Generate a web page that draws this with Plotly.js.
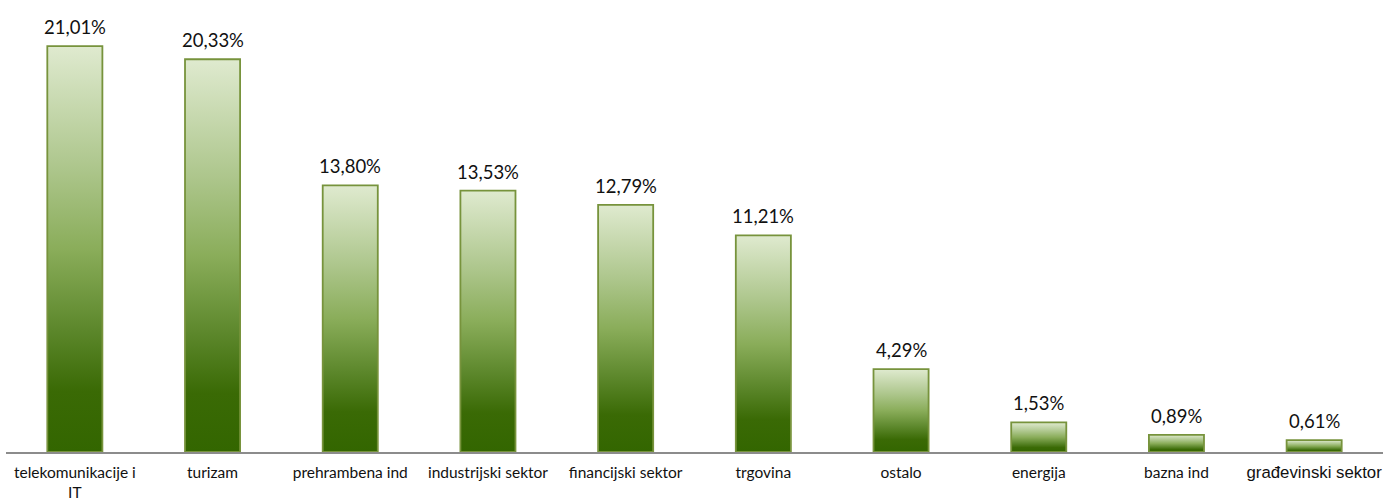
<!DOCTYPE html>
<html>
<head>
<meta charset="utf-8">
<script src="https://cdn.plot.ly/plotly-3.0.1.min.js"></script>
<style>html,body{margin:0;padding:0;background:#fff;}#chart{width:1386px;height:500px;}</style>
</head>
<body>
<div id="chart"></div>
<script>
const categories = ["telekomunikacije i<br>IT", "turizam", "prehrambena ind", "industrijski sektor", "financijski sektor", "trgovina", "ostalo", "energija", "bazna ind", "građevinski sektor"];
const values = [21.01, 20.33, 13.80, 13.53, 12.79, 11.21, 4.29, 1.53, 0.89, 0.61];
const labels = ["21,01%", "20,33%", "13,80%", "13,53%", "12,79%", "11,21%", "4,29%", "1,53%", "0,89%", "0,61%"];

const trace = {
  type: 'bar',
  x: categories,
  y: values,
  marker: { color: '#77a040', line: { color: '#77933c', width: 1.8 } },
  hoverinfo: 'none'
};

const annotations = categories.map((c, i) => ({
  x: c, y: values[i], xref: 'x', yref: 'y',
  text: labels[i], showarrow: false, yanchor: 'bottom', yshift: 6,
  font: { family: 'Lato, sans-serif', size: 18.5, color: '#111' }
}));

const layout = {
  width: 1386, height: 500,
  margin: { l: 6, r: 3, t: 27, b: 48 },
  paper_bgcolor: '#fff', plot_bgcolor: '#fff',
  showlegend: false,
  bargap: 0.6,
  xaxis: {
    type: 'category', automargin: false,
    showline: true, linecolor: '#8c8c8c', linewidth: 1.5,
    ticks: '', showgrid: false, zeroline: false,
    tickfont: { family: 'Lato, sans-serif', size: 15.5, color: '#111' },
    ticklabelstandoff: 6
  },
  yaxis: {
    range: [0, 22], visible: false, showgrid: false, zeroline: false, automargin: false
  },
  annotations: annotations
};

function decorate(gd) {
  const svgNS = 'http://www.w3.org/2000/svg';
  const svg = gd.querySelector('svg.main-svg');
  let defs = svg.querySelector('defs');
  if (!defs) { defs = document.createElementNS(svgNS, 'defs'); svg.insertBefore(defs, svg.firstChild); }
  if (!svg.querySelector('#barGrad')) {
    const grad = document.createElementNS(svgNS, 'linearGradient');
    grad.setAttribute('id', 'barGrad');
    grad.setAttribute('x1', '0'); grad.setAttribute('y1', '0');
    grad.setAttribute('x2', '0'); grad.setAttribute('y2', '1');
    const stops = [[0, '#dfeacf'], [0.3, '#adc68c'], [0.5, '#8aad5a'], [0.7, '#5c872b'], [0.85, '#3a6a05'], [1, '#336600']];
    stops.forEach(([o, c]) => {
      const s = document.createElementNS(svgNS, 'stop');
      s.setAttribute('offset', o); s.setAttribute('stop-color', c);
      grad.appendChild(s);
    });
    defs.appendChild(grad);
  }
  gd.querySelectorAll('.barlayer .point path').forEach(p => { p.style.fill = 'url(#barGrad)'; });
  gd.querySelectorAll('text').forEach(t => {
    if (t.textContent.indexOf('\u0111') >= 0) {
      t.style.setProperty('font-family', "'Liberation Sans', Arial, sans-serif", 'important');
      t.style.setProperty('font-size', '16.8px', 'important');
    }
  });
}

Plotly.newPlot('chart', [trace], layout, { staticPlot: true }).then(gd => {
  decorate(gd);
  gd.on('plotly_afterplot', () => decorate(gd));
  setTimeout(() => decorate(gd), 50);
});
</script>
</body>
</html>
